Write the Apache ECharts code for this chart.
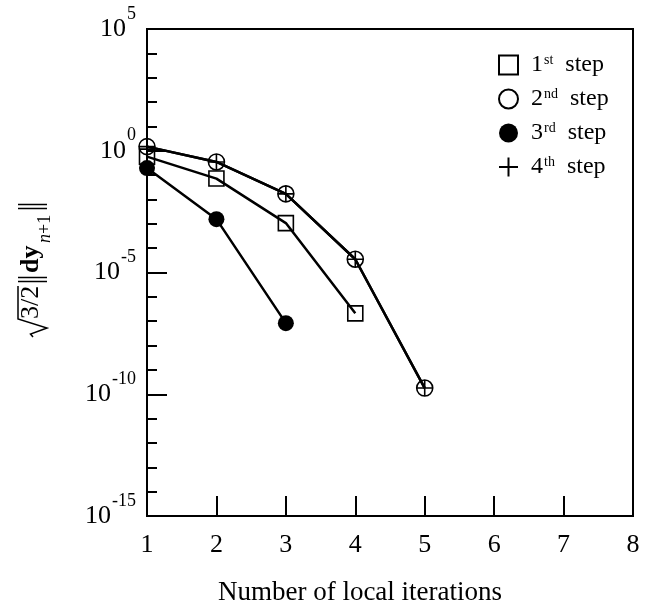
<!DOCTYPE html>
<html>
<head>
<meta charset="utf-8">
<script src="https://cdn.jsdelivr.net/npm/echarts@6/dist/echarts.min.js"></script>
<style>
html,body{margin:0;padding:0;background:#fff;}
#chart{width:655px;height:608px;}
</style>
</head>
<body>
<div id="chart"></div>
<script>
// ---- data ----
const iterations = [1, 2, 3, 4, 5];
const step1 = [0.575, 0.072, 1.07e-3, 2.1e-7];
const step2 = [1.48, 0.347, 0.017, 3.5e-5, 1.8e-10];
const step3 = [0.195, 1.55e-3, 8.3e-8];
const step4 = [1.48, 0.347, 0.017, 3.5e-5, 1.8e-10];
const seriesNames = ['1st step', '2nd step', '3rd step', '4th step'];
const seriesSup = ['st', 'nd', 'rd', 'th'];
const seriesNum = ['1', '2', '3', '4'];
const xTicks = [1, 2, 3, 4, 5, 6, 7, 8];
const yLabelExps = [-15, -10, -5, 0, 5];
const xTitle = 'Number of local iterations';

const FONT = '"Liberation Serif", "Times New Roman", serif';
const pairs = arr => arr.map((v, i) => [iterations[i], v]);

const chart = echarts.init(document.getElementById('chart'), null, {renderer: 'canvas'});

// ---- y-axis title: sqrt(3/2) ||dy_{n+1}||, drawn in a rotated group ----
const ink = {stroke: '#000', lineWidth: 1.5, fill: null};
function txt(t, a, b, size, extra) {
  return {type: 'text', x: a, y: b, style: Object.assign({
    text: t, fontSize: size, fontFamily: FONT, fill: '#000', textAlign: 'left', textVerticalAlign: 'middle'
  }, extra || {})};
}
function bars(a) {
  return [
    {type: 'line', shape: {x1: a, y1: 18, x2: a, y2: 47}, style: ink},
    {type: 'line', shape: {x1: a + 4, y1: 18, x2: a + 4, y2: 47}, style: ink}
  ];
}
const yTitleChildren = [
  {type: 'polyline', shape: {points: [[0, 33], [3, 30.5], [9, 47], [18, 18], [51, 18]]}, style: ink},
  txt('3/2', 18, 31, 26),
  ...bars(55.5),
  txt('dy', 64, 31, 26, {fontWeight: 'bold'}),
  txt('n', 94, 45, 18, {fontStyle: 'italic'}),
  txt('+1', 103, 45, 18),
  ...bars(128.5)
];

const legendData = [
  {name: seriesNames[0], icon: 'rect', itemStyle: {color: 'rgba(0,0,0,0)', borderColor: '#000', borderWidth: 2}},
  {name: seriesNames[1], icon: 'circle', itemStyle: {color: 'rgba(0,0,0,0)', borderColor: '#000', borderWidth: 2}},
  {name: seriesNames[2], icon: 'circle', itemStyle: {color: '#000', borderWidth: 0}},
  {name: seriesNames[3], icon: 'path://M0,10 L20,10 M10,0 L10,20', itemStyle: {color: 'rgba(0,0,0,0)', borderColor: '#000', borderWidth: 2}}
];

const lineStyle = {color: '#000', width: 2.5};
const hollow = {color: 'rgba(0,0,0,0)', borderColor: '#000', borderWidth: 1.6};

const option = {
  backgroundColor: '#fff',
  animation: false,
  grid: {left: 147, right: 22, top: 29, bottom: 92, show: true, borderColor: '#000', borderWidth: 2, backgroundColor: 'rgba(0,0,0,0)'},
  legend: {
    orient: 'vertical', left: 493, top: 48, itemWidth: 19, itemHeight: 19, itemGap: 10,
    data: legendData,
    selectedMode: false,
    formatter: function (name) {
      const i = seriesNames.indexOf(name);
      return seriesNum[i] + '{s|' + seriesSup[i] + '}  step';
    },
    textStyle: {
      fontFamily: FONT, fontSize: 24, color: '#000', padding: [0, 0, 0, 8], lineHeight: 24,
      rich: {s: {fontFamily: FONT, fontSize: 14, verticalAlign: 'top', lineHeight: 14, padding: [0, 0, 0, 1]}}
    }
  },
  xAxis: {
    type: 'value', min: 1, max: 8, interval: 1,
    axisLine: {show: true, lineStyle: {color: '#000', width: 2}},
    axisTick: {show: true, inside: true, length: 20, lineStyle: {color: '#000', width: 2}},
    splitLine: {show: false},
    axisLabel: {fontFamily: FONT, fontSize: 26, color: '#000', margin: 16,
      formatter: v => xTicks.indexOf(v) >= 0 ? String(v) : ''}
  },
  yAxis: [{
    type: 'log', logBase: 10, min: 1e-15, max: 1e5, interval: 1,
    axisLine: {show: true, lineStyle: {color: '#000', width: 2}},
    axisTick: {show: true, inside: true, length: 10, lineStyle: {color: '#000', width: 2}},
    minorTick: {show: false},
    splitLine: {show: false},
    axisLabel: {
      margin: 11, color: '#000',
      formatter: function (v) {
        const e = Math.round(Math.log10(v));
        if (yLabelExps.indexOf(e) < 0) return '';
        return '{b|10}{s|' + e + '}';
      },
      rich: {
        b: {fontFamily: FONT, fontSize: 26, lineHeight: 56, color: '#000'},
        s: {fontFamily: FONT, fontSize: 18, lineHeight: 18, verticalAlign: 'top', padding: [4, 0, 0, 1], color: '#000'}
      }
    }
  }, {
    type: 'log', logBase: 10, min: 1e-15, max: 1e5, interval: 5, position: 'left',
    axisLine: {show: false},
    axisTick: {show: true, inside: true, length: 20, lineStyle: {color: '#000', width: 2}},
    axisLabel: {show: false},
    splitLine: {show: false}
  }],
  graphic: [
    {type: 'group', x: 0, y: 337, rotation: Math.PI / 2, children: yTitleChildren},
    {type: 'text', x: 360, y: 593, style: {text: xTitle, fontFamily: FONT, fontSize: 27, fill: '#000', textAlign: 'center', textVerticalAlign: 'middle'}}
  ],
  series: [
    {name: seriesNames[0], type: 'line', data: pairs(step1), symbol: 'rect', symbolSize: 15, itemStyle: hollow, lineStyle: lineStyle, z: 3},
    {name: seriesNames[1], type: 'line', data: pairs(step2), symbol: 'circle', symbolSize: 16, itemStyle: hollow, lineStyle: lineStyle, z: 3},
    {name: seriesNames[2], type: 'line', data: pairs(step3), symbol: 'circle', symbolSize: 16, itemStyle: {color: '#000'}, lineStyle: lineStyle, z: 3},
    {name: seriesNames[3], type: 'line', data: pairs(step4), symbol: 'path://M0,8 L16,8 M8,0 L8,16', symbolSize: 16, itemStyle: hollow, lineStyle: lineStyle, z: 4}
  ]
};
chart.setOption(option);
</script>
</body>
</html>
